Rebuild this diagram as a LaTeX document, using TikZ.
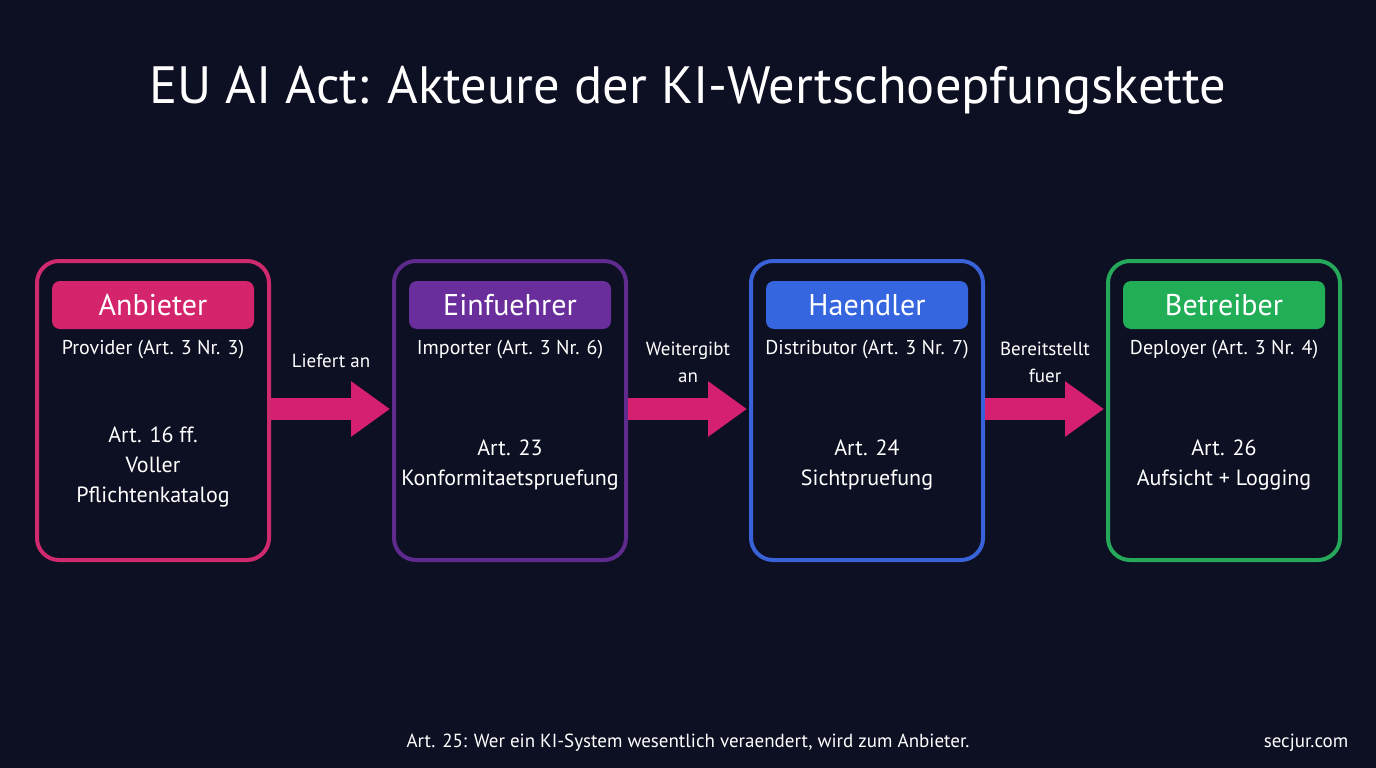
\documentclass[tikz,border=0pt]{standalone}
\usepackage{fontspec}
\setmainfont{PT Sans}
\usetikzlibrary{arrows.meta}
\definecolor{bg}{HTML}{0D0F22}
\definecolor{cMag}{HTML}{D4246C}
\definecolor{cPur}{HTML}{6A2E9C}
\definecolor{cBlu}{HTML}{3566E0}
\definecolor{cGrn}{HTML}{22AE56}
\definecolor{bMag}{HTML}{D02A6E}
\definecolor{bPur}{HTML}{5E2A8E}
\definecolor{bBlu}{HTML}{3A62D8}
\definecolor{bGrn}{HTML}{25A85A}
\definecolor{arr}{HTML}{D4206E}
\begin{document}
\begin{tikzpicture}[x=1pt,y=-1pt,
  actor/.style={draw=#1,line width=4pt,rounded corners=22pt,minimum width=232pt,minimum height=299pt,inner sep=0pt},
  pill/.style={fill=#1,rounded corners=8pt,minimum width=202pt,minimum height=48pt,inner sep=0pt,text=white,font=\fontsize{30}{36}\selectfont},
  sub/.style={text=white,font=\fontsize{20}{24}\selectfont,inner sep=0pt},
  body/.style={text=white,font=\fontsize{22}{30}\selectfont,align=center,inner sep=0pt},
  lbl/.style={text=white,font=\fontsize{19}{27}\selectfont,align=center,inner sep=0pt},
  flow/.style={arr,line width=22pt,-{Triangle[length=39pt,width=53pt]}}
]
\fill[bg] (0,0) rectangle (1376,768);
\useasboundingbox (0,0) rectangle (1376,768);
\node[text=white,font=\fontsize{52.5}{60}\selectfont] (title) at (688,90) {EU AI Act: Akteure der KI-Wertschoepfungskette};

\node[actor=bMag] (a1) at (153,410.5) {};
\node[actor=bPur] (a2) at (510,410.5) {};
\node[actor=bBlu] (a3) at (867,410.5) {};
\node[actor=bGrn] (a4) at (1224,410.5) {};

\node[pill=cMag] (p1) at (153,305) {Anbieter};
\node[pill=cPur] (p2) at (510,305) {Einfuehrer};
\node[pill=cBlu] (p3) at (867,305) {Haendler};
\node[pill=cGrn] (p4) at (1224,305) {Betreiber};

\node[sub] (s1) at (153,350) {Provider (Art. 3 Nr. 3)};
\node[sub] (s2) at (510,350) {Importer (Art. 3 Nr. 6)};
\node[sub] (s3) at (867,350) {Distributor (Art. 3 Nr. 7)};
\node[sub] (s4) at (1224,350) {Deployer (Art. 3 Nr. 4)};

\node[body] (b1) at (153,467) {Art. 16 ff.\\Voller\\Pflichtenkatalog};
\node[body] (b2) at (510,465) {Art. 23\\Konformitaetspruefung};
\node[body] (b3) at (867,465) {Art. 24\\Sichtpruefung};
\node[body] (b4) at (1224,465) {Art. 26\\Aufsicht + Logging};

\coordinate (e1) at (a1.east |- 0,409);
\coordinate (w2) at ([xshift=-2pt]a2.west |- 0,409);
\coordinate (e2) at (a2.east |- 0,409);
\coordinate (w3) at ([xshift=-2pt]a3.west |- 0,409);
\coordinate (e3) at (a3.east |- 0,409);
\coordinate (w4) at ([xshift=-2pt]a4.west |- 0,409);
\draw[flow] (e1) -- (w2);
\draw[flow] (e2) -- (w3);
\draw[flow] (e3) -- (w4);

\node[lbl] (l1) at (331,361) {Liefert an};
\node[lbl] (l2) at (688,362) {Weitergibt\\an};
\node[lbl] (l3) at (1045,362) {Bereitstellt\\fuer};

\node[text=white,font=\fontsize{19}{24}\selectfont] (foot) at (688,743) {Art. 25: Wer ein KI-System wesentlich veraendert, wird zum Anbieter.};
\node[text=white,font=\fontsize{19}{24}\selectfont] (site) at (1306,743) {secjur.com};
\end{tikzpicture}
\end{document}
